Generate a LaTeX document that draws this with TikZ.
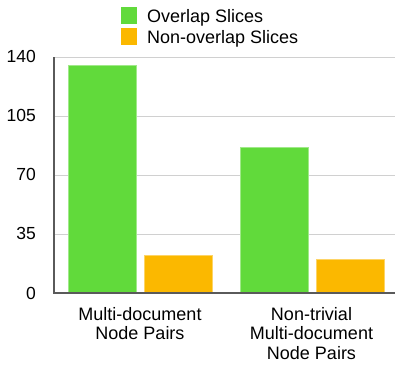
\documentclass[tikz,border=0pt]{standalone}
\usepackage{fontspec}
\setmainfont{Liberation Sans}
\usepackage{xcolor}
\usepackage{tikz}
\usetikzlibrary{positioning}

\definecolor{overlapgreen}{HTML}{61DA3B}
\definecolor{nonoverlaporange}{HTML}{FBB800}
\definecolor{axisgray}{HTML}{5A5A5A}
\definecolor{gridgray}{HTML}{D0D0D0}

\begin{document}
\begin{tikzpicture}
  [
    x=1pt, y=1pt,
    font=\fontsize{18}{19.6}\selectfont,
    gridline/.style={draw=gridgray,line width=0.9pt},
    axisline/.style={draw=axisgray,line width=1.1pt},
    bar/.style={rectangle,anchor=south west,inner sep=0pt,minimum width=68pt,line width=0.7pt},
    overlap/.style={bar,fill=overlapgreen,draw=overlapgreen!60!white},
    nonoverlap/.style={bar,fill=nonoverlaporange,draw=nonoverlaporange!60!white},
    ticklabel/.style={anchor=base east,inner sep=0pt,font=\fontsize{17.5}{19.6}\selectfont},
    category/.style={anchor=north,align=center,inner sep=0pt},
    swatch/.style={rectangle,inner sep=0pt,minimum width=16.5pt,minimum height=16.5pt},
    keytext/.style={anchor=base west,inner sep=0pt}
  ]
  \useasboundingbox (0,0) rectangle (395,365);

  % grid and value labels (1 unit = 1.686pt, zero at y=72)
  \foreach \v in {35,70,105,140} {
    \coordinate (grid\v) at (54,{72+1.686*\v});
    \draw[gridline] (grid\v) -- ++(341,0);
  }
  \foreach \v in {0,35,70,105,140}
    \node[ticklabel] (tick\v) at (36,{66+1.686*\v}) {\v};

  % bars
  \node[overlap, minimum height=227.6pt] (overlap multi) at (68,72) {};
  \node[nonoverlap, minimum height=37.1pt] (nonoverlap multi) at (143.5,72) {};
  \node[overlap, minimum height=145pt] (overlap nontrivial) at (239.5,72) {};
  \node[nonoverlap, minimum height=33.7pt] (nonoverlap nontrivial) at (315.5,72) {};

  % axes
  \coordinate (origin) at (54,72);
  \coordinate (ytop) at (54,308);
  \coordinate (xend) at (395,72);
  \draw[axisline] (ytop) -- (origin) -- (xend);

  % categories
  \node[category] (cat multi) at (140,58) {Multi-document\\Node Pairs};
  \node[category] (cat nontrivial) at (311.5,58) {Non-trivial\\Multi-document\\Node Pairs};

  % legend
  \node[swatch,fill=overlapgreen] (key overlap) at (129,349.5) {};
  \node[swatch,fill=nonoverlaporange] (key nonoverlap) [below=4.3pt of key overlap] {};
  \node[keytext] (key overlap text) at ([xshift=9.5pt,yshift=-7.5pt]key overlap.east) {Overlap Slices};
  \node[keytext] (key nonoverlap text) at ([xshift=9.5pt,yshift=-7pt]key nonoverlap.east) {Non-overlap Slices};
\end{tikzpicture}
\end{document}
